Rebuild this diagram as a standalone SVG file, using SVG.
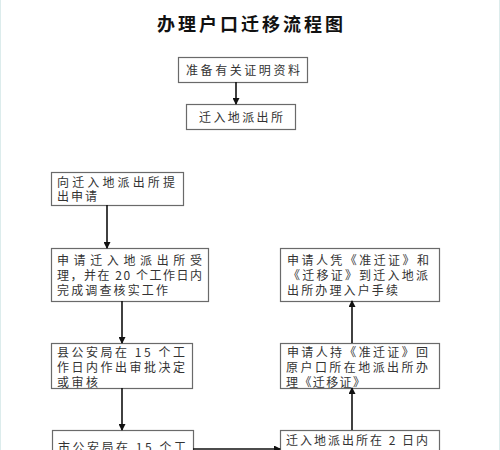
<svg xmlns="http://www.w3.org/2000/svg" width="500" height="450" viewBox="0 0 500 450">
<style>
.box{fill:#fff;stroke:#6a6a6a;stroke-width:1.2}
.t{font-family:"Noto Sans CJK SC","Liberation Serif",sans-serif;font-size:12px;fill:#333}
.title{font-family:"Noto Sans CJK SC","Liberation Sans",sans-serif;font-size:18px;font-weight:bold;fill:#111}
.c{stroke:#111;stroke-width:1.6;fill:none}
</style>
<defs>
<marker id="ah" markerWidth="7" markerHeight="7" refX="6" refY="3.5" orient="auto" markerUnits="userSpaceOnUse">
<path d="M0,0 L7,3.5 L0,7 Z" fill="#111"/>
</marker>
</defs>
<rect x="0" y="0" width="500" height="450" fill="#fff"/>
<line x1="0.5" y1="0" x2="0.5" y2="450" stroke="#dcecec" stroke-width="1"/>
<line x1="499.5" y1="0" x2="499.5" y2="450" stroke="#dcecec" stroke-width="1"/>
<text class="title" x="157" y="31" textLength="186" lengthAdjust="spacing">办理户口迁移流程图</text>

<g id="n1"><rect class="box" x="178.5" y="57.5" width="129" height="25"/>
<text class="t" x="186" y="74.5" textLength="114" lengthAdjust="spacing">准备有关证明资料</text></g>
<g id="n2"><rect class="box" x="186.5" y="104.5" width="109" height="25"/>
<text class="t" x="199" y="121.5" textLength="84" lengthAdjust="spacing">迁入地派出所</text></g>
<g id="n3"><rect class="box" x="51.5" y="172.5" width="132" height="33"/>
<text class="t"><tspan x="57" y="186.5" textLength="118" lengthAdjust="spacing">向迁入地派出所提</tspan><tspan x="57" y="200.5" letter-spacing="2">出申请</tspan></text></g>
<g id="n4"><rect class="box" x="51.5" y="248.5" width="157" height="53"/>
<text class="t"><tspan x="57" y="264.5" textLength="145" lengthAdjust="spacing">申请迁入地派出所受</tspan><tspan x="57" y="279.5" textLength="145" lengthAdjust="spacing">理，并在 20 个工作日内</tspan><tspan x="57" y="294.5" textLength="111" lengthAdjust="spacing">完成调查核实工作</tspan></text></g>
<g id="n5"><rect class="box" x="51.5" y="343.5" width="141" height="45"/>
<text class="t"><tspan x="57" y="356.5" textLength="128" lengthAdjust="spacing">县公安局在 15 个工</tspan><tspan x="57" y="371.5" textLength="128" lengthAdjust="spacing">作日内作出审批决定</tspan><tspan x="57" y="386.5" textLength="41" lengthAdjust="spacing">或审核</tspan></text></g>
<g id="n6"><rect class="box" x="52.5" y="430.5" width="141" height="30"/>
<text class="t" x="58" y="452" textLength="128" lengthAdjust="spacing">市公安局在 15 个工</text></g>
<g id="r1"><rect class="box" x="280.5" y="248.5" width="159" height="53"/>
<text class="t"><tspan x="287" y="264.5" textLength="142" lengthAdjust="spacing">申请人凭《准迁证》和</tspan><tspan x="288" y="279.5" textLength="140" lengthAdjust="spacing">《迁移证》到迁入地派</tspan><tspan x="287" y="294.5" textLength="111" lengthAdjust="spacing">出所办理入户手续</tspan></text></g>
<g id="r2"><rect class="box" x="280.5" y="343.5" width="159" height="45"/>
<text class="t"><tspan x="287" y="356.5" textLength="141" lengthAdjust="spacing">申请人持《准迁证》回</tspan><tspan x="286" y="371.5" textLength="142" lengthAdjust="spacing">原户口所在地派出所办</tspan><tspan x="286" y="386.5" textLength="79" lengthAdjust="spacing">理《迁移证》</tspan></text></g>
<g id="r3"><rect class="box" x="280.5" y="430.5" width="159" height="30"/>
<text class="t" x="286" y="444.5" textLength="142" lengthAdjust="spacing">迁入地派出所在 2 日内</text></g>

<g id="connectors">
<line class="c" x1="236" y1="82" x2="236" y2="104" stroke-width="1.2" marker-end="url(#ah)"/>
<line class="c" x1="107" y1="205" x2="107" y2="248" marker-end="url(#ah)"/>
<line class="c" x1="122" y1="301" x2="122" y2="343" marker-end="url(#ah)"/>
<line class="c" x1="122" y1="388" x2="122" y2="430" marker-end="url(#ah)"/>
<line class="c" x1="352" y1="343" x2="352" y2="301" marker-end="url(#ah)"/>
<line class="c" x1="352" y1="430" x2="352" y2="388" marker-end="url(#ah)"/>
<line class="c" x1="193" y1="449" x2="280" y2="449" stroke-width="1.2" marker-end="url(#ah)"/>
</g>
</svg>
